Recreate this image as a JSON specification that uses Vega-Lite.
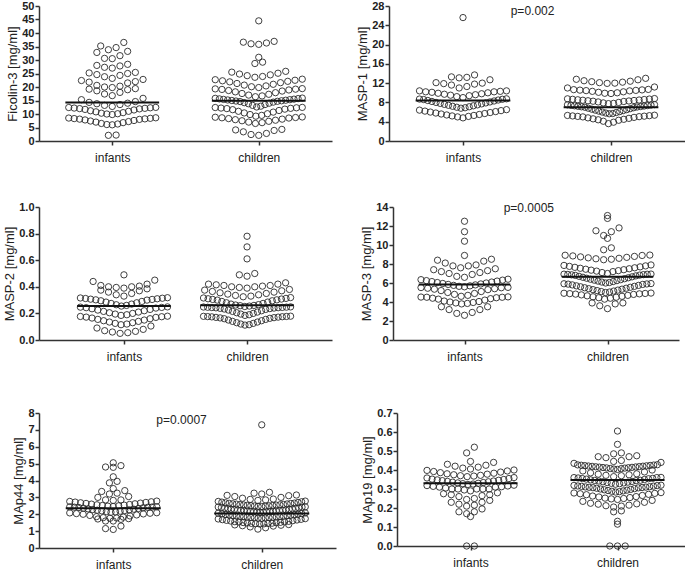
{
"$schema":"https://vega.github.io/schema/vega-lite/v6.json",
"padding":{"left":3,"top":0,"right":0,"bottom":0},
"config":{"view":{"stroke":null},"font":"Liberation Sans",
"axis":{"grid":false,"domainColor":"#333","domainWidth":1.5,"tickColor":"#333","tickWidth":1.5,"tickSize":4,"labelColor":"#222","titleColor":"#222","titleFontWeight":"normal","titleFontSize":13,"labelOverlap":false},
"axisY":{"labelFontWeight":"bold","labelFontSize":11,"labelPadding":1,"titlePadding":2},
"axisX":{"labelFontSize":12,"labelPadding":7,"labelFontWeight":"normal"},
"text":{"fontSize":12,"color":"#222"}},
"spacing":38,
"vconcat":[
{"hconcat":[
{"width":293,"height":135,
"data":{"values":[
{"group":"infants","v":2.1},{"group":"infants","v":2.2},{"group":"infants","v":6.0},{"group":"infants","v":6.1},{"group":"infants","v":6.3},{"group":"infants","v":6.5},{"group":"infants","v":6.8},{"group":"infants","v":7.0},{"group":"infants","v":7.2},{"group":"infants","v":7.4},{"group":"infants","v":7.6},{"group":"infants","v":7.8},{"group":"infants","v":8.0},{"group":"infants","v":8.1},{"group":"infants","v":8.2},{"group":"infants","v":8.3},{"group":"infants","v":8.4},{"group":"infants","v":8.5},{"group":"infants","v":8.6},{"group":"infants","v":9.8},{"group":"infants","v":10.0},{"group":"infants","v":10.1},{"group":"infants","v":10.3},{"group":"infants","v":10.5},{"group":"infants","v":10.8},{"group":"infants","v":11.0},{"group":"infants","v":11.2},{"group":"infants","v":11.5},{"group":"infants","v":11.7},{"group":"infants","v":11.9},{"group":"infants","v":12.0},{"group":"infants","v":12.1},{"group":"infants","v":12.2},{"group":"infants","v":12.3},{"group":"infants","v":12.4},{"group":"infants","v":12.45},{"group":"infants","v":12.8},{"group":"infants","v":13.2},{"group":"infants","v":13.5},{"group":"infants","v":13.8},{"group":"infants","v":14.0},{"group":"infants","v":14.3},{"group":"infants","v":14.6},{"group":"infants","v":15.3},{"group":"infants","v":15.8},{"group":"infants","v":16.8},{"group":"infants","v":17.4},{"group":"infants","v":18.0},{"group":"infants","v":18.6},{"group":"infants","v":19.0},{"group":"infants","v":19.2},{"group":"infants","v":19.4},{"group":"infants","v":19.8},{"group":"infants","v":20.0},{"group":"infants","v":20.3},{"group":"infants","v":20.6},{"group":"infants","v":21.5},{"group":"infants","v":21.8},{"group":"infants","v":22.0},{"group":"infants","v":22.4},{"group":"infants","v":22.8},{"group":"infants","v":23.2},{"group":"infants","v":23.8},{"group":"infants","v":24.3},{"group":"infants","v":24.6},{"group":"infants","v":25.0},{"group":"infants","v":25.2},{"group":"infants","v":25.4},{"group":"infants","v":27.0},{"group":"infants","v":27.3},{"group":"infants","v":27.8},{"group":"infants","v":28.0},{"group":"infants","v":28.4},{"group":"infants","v":30.5},{"group":"infants","v":30.6},{"group":"infants","v":31.6},{"group":"infants","v":32.8},{"group":"infants","v":33.2},{"group":"infants","v":33.8},{"group":"infants","v":34.6},{"group":"infants","v":35.2},{"group":"infants","v":36.5},
{"group":"children","v":2.1},{"group":"children","v":2.4},{"group":"children","v":2.8},{"group":"children","v":3.4},{"group":"children","v":3.9},{"group":"children","v":4.1},{"group":"children","v":4.3},{"group":"children","v":6.5},{"group":"children","v":6.8},{"group":"children","v":7.0},{"group":"children","v":7.3},{"group":"children","v":7.5},{"group":"children","v":7.7},{"group":"children","v":7.9},{"group":"children","v":8.1},{"group":"children","v":8.3},{"group":"children","v":8.5},{"group":"children","v":8.6},{"group":"children","v":8.7},{"group":"children","v":8.8},{"group":"children","v":8.9},{"group":"children","v":9.2},{"group":"children","v":9.5},{"group":"children","v":9.8},{"group":"children","v":10.1},{"group":"children","v":10.4},{"group":"children","v":10.7},{"group":"children","v":11.0},{"group":"children","v":11.3},{"group":"children","v":11.6},{"group":"children","v":11.8},{"group":"children","v":12.0},{"group":"children","v":12.1},{"group":"children","v":12.2},{"group":"children","v":12.3},{"group":"children","v":12.4},{"group":"children","v":12.45},{"group":"children","v":12.6},{"group":"children","v":12.9},{"group":"children","v":13.2},{"group":"children","v":13.5},{"group":"children","v":13.8},{"group":"children","v":14.0},{"group":"children","v":14.2},{"group":"children","v":14.4},{"group":"children","v":14.6},{"group":"children","v":14.7},{"group":"children","v":14.8},{"group":"children","v":14.9},{"group":"children","v":15.0},{"group":"children","v":15.1},{"group":"children","v":15.2},{"group":"children","v":15.3},{"group":"children","v":15.4},{"group":"children","v":15.5},{"group":"children","v":15.6},{"group":"children","v":15.7},{"group":"children","v":15.8},{"group":"children","v":15.9},{"group":"children","v":16.4},{"group":"children","v":16.7},{"group":"children","v":17.0},{"group":"children","v":17.3},{"group":"children","v":17.6},{"group":"children","v":17.9},{"group":"children","v":18.2},{"group":"children","v":18.5},{"group":"children","v":18.7},{"group":"children","v":18.9},{"group":"children","v":19.1},{"group":"children","v":19.2},{"group":"children","v":19.3},{"group":"children","v":19.4},{"group":"children","v":19.8},{"group":"children","v":20.1},{"group":"children","v":20.4},{"group":"children","v":20.7},{"group":"children","v":21.0},{"group":"children","v":21.3},{"group":"children","v":21.6},{"group":"children","v":21.9},{"group":"children","v":22.1},{"group":"children","v":22.3},{"group":"children","v":22.5},{"group":"children","v":22.7},{"group":"children","v":22.9},{"group":"children","v":23.6},{"group":"children","v":23.9},{"group":"children","v":24.2},{"group":"children","v":24.5},{"group":"children","v":24.8},{"group":"children","v":25.1},{"group":"children","v":25.5},{"group":"children","v":25.8},{"group":"children","v":28.7},{"group":"children","v":29.2},{"group":"children","v":31.0},{"group":"children","v":35.8},{"group":"children","v":36.0},{"group":"children","v":36.3},{"group":"children","v":36.6},{"group":"children","v":36.9},{"group":"children","v":44.5}
]},
"layer":[
{"transform":[
{"calculate":"floor((datum.v-5.5)/3.5)","as":"bin"},
{"window":[{"op":"row_number","as":"rk"},{"op":"count","as":"n"}],"groupby":["group","bin"],"sort":[{"field":"v","order":"ascending"}],"frame":[null,null]},
{"calculate":"datum.n%2==1 ? ((datum.rk-1)%2==1?-1:1)*ceil((datum.rk-1)/2) : ((datum.rk-1)%2==0?-1:1)*(floor((datum.rk-1)/2)+0.5)","as":"slot"},
{"calculate":"(datum.group=='infants'?0:1)+datum.slot*min(7.7,87/max(datum.n-1,1))/146.5","as":"xp"}],
"mark":{"type":"point","shape":"circle","filled":false,"size":40,"color":"#2a2a2a","strokeWidth":0.9,"opacity":1},
"encoding":{
"x":{"field":"xp","type":"quantitative","title":null,"scale":{"domain":[-0.5,1.5],"nice":false},"axis":{"values":[0,1],"labelExpr":"datum.value==0?'infants':'children'"}},
"y":{"field":"v","type":"quantitative","title":"Ficolin-3 [mg/ml]","scale":{"domain":[0,50],"nice":false},"axis":{"values":[0,5,10,15,20,25,30,35,40,45,50],"labelOverlap":false}}}},
{"data":{"values":[{"group":"infants","median":14.3},{"group":"children","median":14.9}]},
"transform":[{"calculate":"(datum.group=='infants'?0:1)-0.32","as":"x1"},{"calculate":"(datum.group=='infants'?0:1)+0.32","as":"x2"}],
"mark":{"type":"rule","color":"#111","strokeWidth":2},
"encoding":{"x":{"field":"x1","type":"quantitative","title":null},"x2":{"field":"x2"},"y":{"field":"median","type":"quantitative","title":"Ficolin-3 [mg/ml]","axis":{"values":[0,5,10,15,20,25,30,35,40,45,50],"labelOverlap":false}}}}
]},
{"width":296,"height":135,
"data":{"values":[
{"group":"infants","v":4.8},{"group":"infants","v":5.0},{"group":"infants","v":5.1},{"group":"infants","v":5.2},{"group":"infants","v":5.3},{"group":"infants","v":5.4},{"group":"infants","v":5.5},{"group":"infants","v":5.6},{"group":"infants","v":5.7},{"group":"infants","v":5.8},{"group":"infants","v":5.9},{"group":"infants","v":6.0},{"group":"infants","v":6.1},{"group":"infants","v":6.2},{"group":"infants","v":6.3},{"group":"infants","v":6.4},{"group":"infants","v":6.5},{"group":"infants","v":6.8},{"group":"infants","v":6.9},{"group":"infants","v":7.0},{"group":"infants","v":7.1},{"group":"infants","v":7.2},{"group":"infants","v":7.3},{"group":"infants","v":7.4},{"group":"infants","v":7.5},{"group":"infants","v":7.6},{"group":"infants","v":7.7},{"group":"infants","v":7.8},{"group":"infants","v":7.9},{"group":"infants","v":8.0},{"group":"infants","v":8.1},{"group":"infants","v":8.2},{"group":"infants","v":8.3},{"group":"infants","v":8.4},{"group":"infants","v":8.5},{"group":"infants","v":8.6},{"group":"infants","v":8.65},{"group":"infants","v":8.7},{"group":"infants","v":8.75},{"group":"infants","v":9.0},{"group":"infants","v":9.2},{"group":"infants","v":9.4},{"group":"infants","v":9.5},{"group":"infants","v":9.6},{"group":"infants","v":9.7},{"group":"infants","v":9.8},{"group":"infants","v":9.9},{"group":"infants","v":10.0},{"group":"infants","v":10.1},{"group":"infants","v":10.2},{"group":"infants","v":10.2},{"group":"infants","v":10.3},{"group":"infants","v":10.4},{"group":"infants","v":10.4},{"group":"infants","v":11.0},{"group":"infants","v":11.3},{"group":"infants","v":11.6},{"group":"infants","v":11.8},{"group":"infants","v":11.9},{"group":"infants","v":12.0},{"group":"infants","v":12.1},{"group":"infants","v":12.7},{"group":"infants","v":13.1},{"group":"infants","v":13.2},{"group":"infants","v":13.3},{"group":"infants","v":13.7},{"group":"infants","v":25.6},
{"group":"children","v":3.6},{"group":"children","v":3.9},{"group":"children","v":4.1},{"group":"children","v":4.3},{"group":"children","v":4.4},{"group":"children","v":4.5},{"group":"children","v":4.6},{"group":"children","v":4.7},{"group":"children","v":4.8},{"group":"children","v":4.9},{"group":"children","v":5.0},{"group":"children","v":5.05},{"group":"children","v":5.1},{"group":"children","v":5.15},{"group":"children","v":5.2},{"group":"children","v":5.25},{"group":"children","v":5.3},{"group":"children","v":5.35},{"group":"children","v":5.65},{"group":"children","v":5.7},{"group":"children","v":5.8},{"group":"children","v":5.9},{"group":"children","v":6.0},{"group":"children","v":6.1},{"group":"children","v":6.2},{"group":"children","v":6.3},{"group":"children","v":6.4},{"group":"children","v":6.5},{"group":"children","v":6.6},{"group":"children","v":6.7},{"group":"children","v":6.8},{"group":"children","v":6.9},{"group":"children","v":7.0},{"group":"children","v":7.05},{"group":"children","v":7.1},{"group":"children","v":7.15},{"group":"children","v":7.2},{"group":"children","v":7.25},{"group":"children","v":7.3},{"group":"children","v":7.35},{"group":"children","v":7.4},{"group":"children","v":7.45},{"group":"children","v":7.5},{"group":"children","v":7.55},{"group":"children","v":7.75},{"group":"children","v":7.8},{"group":"children","v":7.9},{"group":"children","v":8.0},{"group":"children","v":8.1},{"group":"children","v":8.2},{"group":"children","v":8.25},{"group":"children","v":8.3},{"group":"children","v":8.35},{"group":"children","v":8.4},{"group":"children","v":8.45},{"group":"children","v":8.5},{"group":"children","v":8.55},{"group":"children","v":8.6},{"group":"children","v":8.65},{"group":"children","v":8.7},{"group":"children","v":8.75},{"group":"children","v":8.8},{"group":"children","v":9.85},{"group":"children","v":9.9},{"group":"children","v":10.0},{"group":"children","v":10.1},{"group":"children","v":10.2},{"group":"children","v":10.3},{"group":"children","v":10.4},{"group":"children","v":10.45},{"group":"children","v":10.5},{"group":"children","v":10.55},{"group":"children","v":10.6},{"group":"children","v":10.65},{"group":"children","v":10.7},{"group":"children","v":11.0},{"group":"children","v":11.2},{"group":"children","v":11.95},{"group":"children","v":12.0},{"group":"children","v":12.1},{"group":"children","v":12.2},{"group":"children","v":12.3},{"group":"children","v":12.4},{"group":"children","v":12.5},{"group":"children","v":12.7},{"group":"children","v":12.8},{"group":"children","v":13.0}
]},
"layer":[
{"transform":[
{"calculate":"floor((datum.v-(datum.group=='infants'?0.4:1.4))/2.1)","as":"bin"},
{"window":[{"op":"row_number","as":"rk"},{"op":"count","as":"n"}],"groupby":["group","bin"],"sort":[{"field":"v","order":"ascending"}],"frame":[null,null]},
{"calculate":"datum.n%2==1 ? ((datum.rk-1)%2==1?-1:1)*ceil((datum.rk-1)/2) : ((datum.rk-1)%2==0?-1:1)*(floor((datum.rk-1)/2)+0.5)","as":"slot"},
{"calculate":"(datum.group=='infants'?0:1)+datum.slot*min(7.7,87/max(datum.n-1,1))/148","as":"xp"}],
"mark":{"type":"point","shape":"circle","filled":false,"size":40,"color":"#2a2a2a","strokeWidth":0.9,"opacity":1},
"encoding":{
"x":{"field":"xp","type":"quantitative","title":null,"scale":{"domain":[-0.5,1.5],"nice":false},"axis":{"values":[0,1],"labelExpr":"datum.value==0?'infants':'children'"}},
"y":{"field":"v","type":"quantitative","title":"MASP-1 [mg/ml]","scale":{"domain":[0,28],"nice":false},"axis":{"values":[0,4,8,12,16,20,24,28],"labelOverlap":false}}}},
{"data":{"values":[{"group":"infants","median":8.4},{"group":"children","median":7.0}]},
"transform":[{"calculate":"(datum.group=='infants'?0:1)-0.32","as":"x1"},{"calculate":"(datum.group=='infants'?0:1)+0.32","as":"x2"}],
"mark":{"type":"rule","color":"#111","strokeWidth":2},
"encoding":{"x":{"field":"x1","type":"quantitative","title":null},"x2":{"field":"x2"},"y":{"field":"median","type":"quantitative","title":"MASP-1 [mg/ml]","axis":{"values":[0,4,8,12,16,20,24,28],"labelOverlap":false}}}},
{"data":{"values":[{"p":"p=0.002"}]},
"mark":{"type":"text","baseline":"middle","align":"center"},
"encoding":{"x":{"datum":0.47,"type":"quantitative","title":null,"axis":{"values":[0,1],"labelExpr":"datum.value==0?'infants':'children'"}},"y":{"datum":27,"type":"quantitative","title":"MASP-1 [mg/ml]","axis":{"values":[0,4,8,12,16,20,24,28],"labelOverlap":false}},"text":{"field":"p"}}}
]}
],"spacing":24},
{"vconcat":[
{"hconcat":[
{"width":293,"height":133,
"data":{"values":[
{"group":"infants","v":0.05},{"group":"infants","v":0.055},{"group":"infants","v":0.06},{"group":"infants","v":0.065},{"group":"infants","v":0.07},{"group":"infants","v":0.08},{"group":"infants","v":0.09},{"group":"infants","v":0.105},{"group":"infants","v":0.115},{"group":"infants","v":0.12},{"group":"infants","v":0.125},{"group":"infants","v":0.13},{"group":"infants","v":0.135},{"group":"infants","v":0.14},{"group":"infants","v":0.145},{"group":"infants","v":0.15},{"group":"infants","v":0.155},{"group":"infants","v":0.16},{"group":"infants","v":0.165},{"group":"infants","v":0.17},{"group":"infants","v":0.172},{"group":"infants","v":0.175},{"group":"infants","v":0.177},{"group":"infants","v":0.179},{"group":"infants","v":0.185},{"group":"infants","v":0.19},{"group":"infants","v":0.195},{"group":"infants","v":0.2},{"group":"infants","v":0.205},{"group":"infants","v":0.21},{"group":"infants","v":0.215},{"group":"infants","v":0.22},{"group":"infants","v":0.225},{"group":"infants","v":0.23},{"group":"infants","v":0.235},{"group":"infants","v":0.24},{"group":"infants","v":0.243},{"group":"infants","v":0.245},{"group":"infants","v":0.247},{"group":"infants","v":0.249},{"group":"infants","v":0.255},{"group":"infants","v":0.26},{"group":"infants","v":0.265},{"group":"infants","v":0.27},{"group":"infants","v":0.275},{"group":"infants","v":0.28},{"group":"infants","v":0.285},{"group":"infants","v":0.29},{"group":"infants","v":0.295},{"group":"infants","v":0.3},{"group":"infants","v":0.302},{"group":"infants","v":0.305},{"group":"infants","v":0.307},{"group":"infants","v":0.31},{"group":"infants","v":0.312},{"group":"infants","v":0.314},{"group":"infants","v":0.316},{"group":"infants","v":0.318},{"group":"infants","v":0.33},{"group":"infants","v":0.34},{"group":"infants","v":0.35},{"group":"infants","v":0.36},{"group":"infants","v":0.37},{"group":"infants","v":0.375},{"group":"infants","v":0.385},{"group":"infants","v":0.39},{"group":"infants","v":0.395},{"group":"infants","v":0.4},{"group":"infants","v":0.4},{"group":"infants","v":0.405},{"group":"infants","v":0.41},{"group":"infants","v":0.42},{"group":"infants","v":0.44},{"group":"infants","v":0.45},{"group":"infants","v":0.49},
{"group":"children","v":0.112},{"group":"children","v":0.115},{"group":"children","v":0.12},{"group":"children","v":0.125},{"group":"children","v":0.13},{"group":"children","v":0.135},{"group":"children","v":0.14},{"group":"children","v":0.145},{"group":"children","v":0.15},{"group":"children","v":0.155},{"group":"children","v":0.16},{"group":"children","v":0.163},{"group":"children","v":0.166},{"group":"children","v":0.168},{"group":"children","v":0.17},{"group":"children","v":0.172},{"group":"children","v":0.174},{"group":"children","v":0.175},{"group":"children","v":0.176},{"group":"children","v":0.177},{"group":"children","v":0.178},{"group":"children","v":0.179},{"group":"children","v":0.185},{"group":"children","v":0.19},{"group":"children","v":0.195},{"group":"children","v":0.2},{"group":"children","v":0.205},{"group":"children","v":0.21},{"group":"children","v":0.215},{"group":"children","v":0.22},{"group":"children","v":0.225},{"group":"children","v":0.23},{"group":"children","v":0.233},{"group":"children","v":0.236},{"group":"children","v":0.238},{"group":"children","v":0.24},{"group":"children","v":0.242},{"group":"children","v":0.243},{"group":"children","v":0.244},{"group":"children","v":0.245},{"group":"children","v":0.246},{"group":"children","v":0.247},{"group":"children","v":0.248},{"group":"children","v":0.249},{"group":"children","v":0.252},{"group":"children","v":0.255},{"group":"children","v":0.258},{"group":"children","v":0.26},{"group":"children","v":0.263},{"group":"children","v":0.266},{"group":"children","v":0.27},{"group":"children","v":0.275},{"group":"children","v":0.28},{"group":"children","v":0.285},{"group":"children","v":0.29},{"group":"children","v":0.295},{"group":"children","v":0.3},{"group":"children","v":0.302},{"group":"children","v":0.305},{"group":"children","v":0.308},{"group":"children","v":0.31},{"group":"children","v":0.313},{"group":"children","v":0.316},{"group":"children","v":0.319},{"group":"children","v":0.325},{"group":"children","v":0.33},{"group":"children","v":0.335},{"group":"children","v":0.34},{"group":"children","v":0.345},{"group":"children","v":0.35},{"group":"children","v":0.355},{"group":"children","v":0.36},{"group":"children","v":0.365},{"group":"children","v":0.37},{"group":"children","v":0.375},{"group":"children","v":0.38},{"group":"children","v":0.39},{"group":"children","v":0.395},{"group":"children","v":0.4},{"group":"children","v":0.4},{"group":"children","v":0.405},{"group":"children","v":0.41},{"group":"children","v":0.41},{"group":"children","v":0.415},{"group":"children","v":0.42},{"group":"children","v":0.42},{"group":"children","v":0.43},{"group":"children","v":0.48},{"group":"children","v":0.49},{"group":"children","v":0.5},{"group":"children","v":0.61},{"group":"children","v":0.7},{"group":"children","v":0.78}
]},
"layer":[
{"transform":[
{"calculate":"floor((datum.v-0.04)/0.07)","as":"bin"},
{"window":[{"op":"row_number","as":"rk"},{"op":"count","as":"n"}],"groupby":["group","bin"],"sort":[{"field":"v","order":"ascending"}],"frame":[null,null]},
{"calculate":"datum.n%2==1 ? ((datum.rk-1)%2==1?-1:1)*ceil((datum.rk-1)/2) : ((datum.rk-1)%2==0?-1:1)*(floor((datum.rk-1)/2)+0.5)","as":"slot"},
{"calculate":"(datum.group=='infants'?0:1)+datum.slot*min(7.7,87/max(datum.n-1,1))/123","as":"xp"}],
"mark":{"type":"point","shape":"circle","filled":false,"size":40,"color":"#2a2a2a","strokeWidth":0.9,"opacity":1},
"encoding":{
"x":{"field":"xp","type":"quantitative","title":null,"scale":{"domain":[-0.69,1.69],"nice":false},"axis":{"values":[0,1],"labelExpr":"datum.value==0?'infants':'children'"}},
"y":{"field":"v","type":"quantitative","title":"MASP-2 [mg/ml]","scale":{"domain":[0,1],"nice":false},"axis":{"values":[0,0.2,0.4,0.6,0.8,1],"format":".1f","labelOverlap":false}}}},
{"data":{"values":[{"group":"infants","median":0.256},{"group":"children","median":0.261}]},
"transform":[{"calculate":"(datum.group=='infants'?0:1)-0.38","as":"x1"},{"calculate":"(datum.group=='infants'?0:1)+0.38","as":"x2"}],
"mark":{"type":"rule","color":"#111","strokeWidth":2},
"encoding":{"x":{"field":"x1","type":"quantitative","title":null},"x2":{"field":"x2"},"y":{"field":"median","type":"quantitative","title":"MASP-2 [mg/ml]","axis":{"values":[0,0.2,0.4,0.6,0.8,1],"format":".1f","labelOverlap":false}}}}
]},
{"width":286,"height":133,
"data":{"values":[
{"group":"infants","v":2.6},{"group":"infants","v":2.8},{"group":"infants","v":2.9},{"group":"infants","v":3.2},{"group":"infants","v":3.2},{"group":"infants","v":3.5},{"group":"infants","v":3.5},{"group":"infants","v":3.8},{"group":"infants","v":3.85},{"group":"infants","v":3.9},{"group":"infants","v":3.95},{"group":"infants","v":4.0},{"group":"infants","v":4.05},{"group":"infants","v":4.1},{"group":"infants","v":4.2},{"group":"infants","v":4.3},{"group":"infants","v":4.35},{"group":"infants","v":4.4},{"group":"infants","v":4.45},{"group":"infants","v":4.5},{"group":"infants","v":4.5},{"group":"infants","v":4.52},{"group":"infants","v":4.54},{"group":"infants","v":4.6},{"group":"infants","v":4.7},{"group":"infants","v":4.8},{"group":"infants","v":4.9},{"group":"infants","v":5.0},{"group":"infants","v":5.1},{"group":"infants","v":5.2},{"group":"infants","v":5.3},{"group":"infants","v":5.35},{"group":"infants","v":5.4},{"group":"infants","v":5.45},{"group":"infants","v":5.5},{"group":"infants","v":5.52},{"group":"infants","v":5.54},{"group":"infants","v":5.6},{"group":"infants","v":5.65},{"group":"infants","v":5.7},{"group":"infants","v":5.75},{"group":"infants","v":5.8},{"group":"infants","v":5.85},{"group":"infants","v":5.9},{"group":"infants","v":5.95},{"group":"infants","v":6.0},{"group":"infants","v":6.05},{"group":"infants","v":6.1},{"group":"infants","v":6.15},{"group":"infants","v":6.2},{"group":"infants","v":6.25},{"group":"infants","v":6.3},{"group":"infants","v":6.35},{"group":"infants","v":6.4},{"group":"infants","v":6.6},{"group":"infants","v":6.7},{"group":"infants","v":6.9},{"group":"infants","v":7.0},{"group":"infants","v":7.1},{"group":"infants","v":7.2},{"group":"infants","v":7.3},{"group":"infants","v":7.4},{"group":"infants","v":7.5},{"group":"infants","v":7.6},{"group":"infants","v":7.8},{"group":"infants","v":7.8},{"group":"infants","v":7.9},{"group":"infants","v":8.1},{"group":"infants","v":8.3},{"group":"infants","v":8.4},{"group":"infants","v":8.5},{"group":"infants","v":8.9},{"group":"infants","v":10.4},{"group":"infants","v":11.4},{"group":"infants","v":12.5},
{"group":"children","v":3.3},{"group":"children","v":3.6},{"group":"children","v":3.8},{"group":"children","v":3.9},{"group":"children","v":3.9},{"group":"children","v":4.3},{"group":"children","v":4.4},{"group":"children","v":4.45},{"group":"children","v":4.5},{"group":"children","v":4.55},{"group":"children","v":4.6},{"group":"children","v":4.65},{"group":"children","v":4.7},{"group":"children","v":4.75},{"group":"children","v":4.8},{"group":"children","v":4.83},{"group":"children","v":4.86},{"group":"children","v":4.88},{"group":"children","v":4.9},{"group":"children","v":4.92},{"group":"children","v":4.94},{"group":"children","v":5.0},{"group":"children","v":5.05},{"group":"children","v":5.1},{"group":"children","v":5.15},{"group":"children","v":5.2},{"group":"children","v":5.25},{"group":"children","v":5.3},{"group":"children","v":5.35},{"group":"children","v":5.4},{"group":"children","v":5.45},{"group":"children","v":5.5},{"group":"children","v":5.55},{"group":"children","v":5.6},{"group":"children","v":5.65},{"group":"children","v":5.7},{"group":"children","v":5.75},{"group":"children","v":5.8},{"group":"children","v":5.85},{"group":"children","v":5.88},{"group":"children","v":5.9},{"group":"children","v":5.92},{"group":"children","v":5.94},{"group":"children","v":6.0},{"group":"children","v":6.05},{"group":"children","v":6.1},{"group":"children","v":6.15},{"group":"children","v":6.2},{"group":"children","v":6.25},{"group":"children","v":6.3},{"group":"children","v":6.35},{"group":"children","v":6.4},{"group":"children","v":6.45},{"group":"children","v":6.5},{"group":"children","v":6.55},{"group":"children","v":6.6},{"group":"children","v":6.65},{"group":"children","v":6.7},{"group":"children","v":6.75},{"group":"children","v":6.8},{"group":"children","v":6.83},{"group":"children","v":6.86},{"group":"children","v":6.88},{"group":"children","v":6.9},{"group":"children","v":6.92},{"group":"children","v":6.93},{"group":"children","v":6.94},{"group":"children","v":7.0},{"group":"children","v":7.1},{"group":"children","v":7.2},{"group":"children","v":7.25},{"group":"children","v":7.3},{"group":"children","v":7.35},{"group":"children","v":7.4},{"group":"children","v":7.45},{"group":"children","v":7.5},{"group":"children","v":7.55},{"group":"children","v":7.6},{"group":"children","v":7.65},{"group":"children","v":7.7},{"group":"children","v":7.75},{"group":"children","v":7.8},{"group":"children","v":7.85},{"group":"children","v":7.9},{"group":"children","v":8.45},{"group":"children","v":8.5},{"group":"children","v":8.55},{"group":"children","v":8.6},{"group":"children","v":8.65},{"group":"children","v":8.7},{"group":"children","v":8.75},{"group":"children","v":8.8},{"group":"children","v":8.85},{"group":"children","v":8.9},{"group":"children","v":8.92},{"group":"children","v":8.94},{"group":"children","v":9.5},{"group":"children","v":9.7},{"group":"children","v":10.7},{"group":"children","v":11.0},{"group":"children","v":11.4},{"group":"children","v":11.5},{"group":"children","v":11.8},{"group":"children","v":12.8},{"group":"children","v":13.1}
]},
"layer":[
{"transform":[
{"calculate":"floor((datum.v-(datum.group=='infants'?2.55:2.95))/1.0)","as":"bin"},
{"window":[{"op":"row_number","as":"rk"},{"op":"count","as":"n"}],"groupby":["group","bin"],"sort":[{"field":"v","order":"ascending"}],"frame":[null,null]},
{"calculate":"datum.n%2==1 ? ((datum.rk-1)%2==1?-1:1)*ceil((datum.rk-1)/2) : ((datum.rk-1)%2==0?-1:1)*(floor((datum.rk-1)/2)+0.5)","as":"slot"},
{"calculate":"(datum.group=='infants'?0:1)+datum.slot*min(7.7,87/max(datum.n-1,1))/143","as":"xp"}],
"mark":{"type":"point","shape":"circle","filled":false,"size":40,"color":"#2a2a2a","strokeWidth":0.9,"opacity":1},
"encoding":{
"x":{"field":"xp","type":"quantitative","title":null,"scale":{"domain":[-0.5,1.5],"nice":false},"axis":{"values":[0,1],"labelExpr":"datum.value==0?'infants':'children'"}},
"y":{"field":"v","type":"quantitative","title":"MASP-3 [mg/ml]","scale":{"domain":[0,14],"nice":false},"axis":{"values":[0,2,4,6,8,10,12,14],"labelOverlap":false}}}},
{"data":{"values":[{"group":"infants","median":5.83},{"group":"children","median":6.65}]},
"transform":[{"calculate":"(datum.group=='infants'?0:1)-0.32","as":"x1"},{"calculate":"(datum.group=='infants'?0:1)+0.32","as":"x2"}],
"mark":{"type":"rule","color":"#111","strokeWidth":2},
"encoding":{"x":{"field":"x1","type":"quantitative","title":null},"x2":{"field":"x2"},"y":{"field":"median","type":"quantitative","title":"MASP-3 [mg/ml]","axis":{"values":[0,2,4,6,8,10,12,14],"labelOverlap":false}}}},
{"data":{"values":[{"p":"p=0.0005"}]},
"mark":{"type":"text","baseline":"middle","align":"center"},
"encoding":{"x":{"datum":0.45,"type":"quantitative","title":null,"axis":{"values":[0,1],"labelExpr":"datum.value==0?'infants':'children'"}},"y":{"datum":13.9,"type":"quantitative","title":"MASP-3 [mg/ml]","axis":{"values":[0,2,4,6,8,10,12,14],"labelOverlap":false}},"text":{"field":"p"}}}
]}
],"spacing":28},
{"hconcat":[
{"width":297,"height":135,
"data":{"values":[
{"group":"infants","v":1.1},{"group":"infants","v":1.15},{"group":"infants","v":1.3},{"group":"infants","v":1.6},{"group":"infants","v":1.6},{"group":"infants","v":1.7},{"group":"infants","v":1.72},{"group":"infants","v":1.74},{"group":"infants","v":1.76},{"group":"infants","v":1.78},{"group":"infants","v":1.8},{"group":"infants","v":1.83},{"group":"infants","v":1.86},{"group":"infants","v":1.9},{"group":"infants","v":1.93},{"group":"infants","v":1.96},{"group":"infants","v":2.0},{"group":"infants","v":2.02},{"group":"infants","v":2.04},{"group":"infants","v":2.06},{"group":"infants","v":2.08},{"group":"infants","v":2.09},{"group":"infants","v":2.12},{"group":"infants","v":2.14},{"group":"infants","v":2.16},{"group":"infants","v":2.18},{"group":"infants","v":2.2},{"group":"infants","v":2.22},{"group":"infants","v":2.24},{"group":"infants","v":2.26},{"group":"infants","v":2.28},{"group":"infants","v":2.3},{"group":"infants","v":2.32},{"group":"infants","v":2.34},{"group":"infants","v":2.36},{"group":"infants","v":2.38},{"group":"infants","v":2.4},{"group":"infants","v":2.41},{"group":"infants","v":2.42},{"group":"infants","v":2.43},{"group":"infants","v":2.44},{"group":"infants","v":2.445},{"group":"infants","v":2.46},{"group":"infants","v":2.48},{"group":"infants","v":2.5},{"group":"infants","v":2.52},{"group":"infants","v":2.54},{"group":"infants","v":2.56},{"group":"infants","v":2.58},{"group":"infants","v":2.6},{"group":"infants","v":2.62},{"group":"infants","v":2.64},{"group":"infants","v":2.66},{"group":"infants","v":2.68},{"group":"infants","v":2.7},{"group":"infants","v":2.72},{"group":"infants","v":2.74},{"group":"infants","v":2.76},{"group":"infants","v":2.78},{"group":"infants","v":2.82},{"group":"infants","v":2.85},{"group":"infants","v":2.85},{"group":"infants","v":3.0},{"group":"infants","v":3.05},{"group":"infants","v":3.2},{"group":"infants","v":3.25},{"group":"infants","v":3.35},{"group":"infants","v":3.4},{"group":"infants","v":3.52},{"group":"infants","v":3.86},{"group":"infants","v":3.95},{"group":"infants","v":4.22},{"group":"infants","v":4.78},{"group":"infants","v":4.8},{"group":"infants","v":4.88},{"group":"infants","v":5.05},
{"group":"children","v":1.12},{"group":"children","v":1.2},{"group":"children","v":1.25},{"group":"children","v":1.3},{"group":"children","v":1.32},{"group":"children","v":1.35},{"group":"children","v":1.37},{"group":"children","v":1.39},{"group":"children","v":1.42},{"group":"children","v":1.43},{"group":"children","v":1.44},{"group":"children","v":1.45},{"group":"children","v":1.46},{"group":"children","v":1.47},{"group":"children","v":1.48},{"group":"children","v":1.5},{"group":"children","v":1.51},{"group":"children","v":1.52},{"group":"children","v":1.54},{"group":"children","v":1.55},{"group":"children","v":1.56},{"group":"children","v":1.58},{"group":"children","v":1.6},{"group":"children","v":1.62},{"group":"children","v":1.64},{"group":"children","v":1.66},{"group":"children","v":1.68},{"group":"children","v":1.7},{"group":"children","v":1.72},{"group":"children","v":1.74},{"group":"children","v":1.76},{"group":"children","v":1.77},{"group":"children","v":1.78},{"group":"children","v":1.79},{"group":"children","v":1.8},{"group":"children","v":1.81},{"group":"children","v":1.82},{"group":"children","v":1.83},{"group":"children","v":1.84},{"group":"children","v":1.85},{"group":"children","v":1.86},{"group":"children","v":1.87},{"group":"children","v":1.88},{"group":"children","v":1.9},{"group":"children","v":1.91},{"group":"children","v":1.92},{"group":"children","v":1.94},{"group":"children","v":1.95},{"group":"children","v":1.96},{"group":"children","v":1.98},{"group":"children","v":2.0},{"group":"children","v":2.02},{"group":"children","v":2.04},{"group":"children","v":2.06},{"group":"children","v":2.08},{"group":"children","v":2.11},{"group":"children","v":2.12},{"group":"children","v":2.13},{"group":"children","v":2.14},{"group":"children","v":2.15},{"group":"children","v":2.16},{"group":"children","v":2.17},{"group":"children","v":2.18},{"group":"children","v":2.19},{"group":"children","v":2.2},{"group":"children","v":2.21},{"group":"children","v":2.22},{"group":"children","v":2.23},{"group":"children","v":2.24},{"group":"children","v":2.25},{"group":"children","v":2.26},{"group":"children","v":2.28},{"group":"children","v":2.29},{"group":"children","v":2.3},{"group":"children","v":2.32},{"group":"children","v":2.33},{"group":"children","v":2.35},{"group":"children","v":2.36},{"group":"children","v":2.38},{"group":"children","v":2.4},{"group":"children","v":2.42},{"group":"children","v":2.43},{"group":"children","v":2.44},{"group":"children","v":2.46},{"group":"children","v":2.47},{"group":"children","v":2.48},{"group":"children","v":2.49},{"group":"children","v":2.5},{"group":"children","v":2.51},{"group":"children","v":2.52},{"group":"children","v":2.53},{"group":"children","v":2.54},{"group":"children","v":2.55},{"group":"children","v":2.56},{"group":"children","v":2.57},{"group":"children","v":2.58},{"group":"children","v":2.6},{"group":"children","v":2.61},{"group":"children","v":2.62},{"group":"children","v":2.64},{"group":"children","v":2.65},{"group":"children","v":2.66},{"group":"children","v":2.68},{"group":"children","v":2.7},{"group":"children","v":2.72},{"group":"children","v":2.74},{"group":"children","v":2.76},{"group":"children","v":2.78},{"group":"children","v":2.82},{"group":"children","v":2.85},{"group":"children","v":2.88},{"group":"children","v":2.9},{"group":"children","v":2.95},{"group":"children","v":3.0},{"group":"children","v":3.05},{"group":"children","v":3.1},{"group":"children","v":3.12},{"group":"children","v":3.14},{"group":"children","v":3.2},{"group":"children","v":3.25},{"group":"children","v":3.3},{"group":"children","v":7.3}
]},
"layer":[
{"transform":[
{"calculate":"floor(datum.v/0.35)","as":"bin"},
{"window":[{"op":"row_number","as":"rk"},{"op":"count","as":"n"}],"groupby":["group","bin"],"sort":[{"field":"v","order":"ascending"}],"frame":[null,null]},
{"calculate":"datum.n%2==1 ? ((datum.rk-1)%2==1?-1:1)*ceil((datum.rk-1)/2) : ((datum.rk-1)%2==0?-1:1)*(floor((datum.rk-1)/2)+0.5)","as":"slot"},
{"calculate":"(datum.group=='infants'?0:1)+datum.slot*min(7.7,87/max(datum.n-1,1))/148.5","as":"xp"}],
"mark":{"type":"point","shape":"circle","filled":false,"size":40,"color":"#2a2a2a","strokeWidth":0.9,"opacity":1},
"encoding":{
"x":{"field":"xp","type":"quantitative","title":null,"scale":{"domain":[-0.5,1.5],"nice":false},"axis":{"values":[0,1],"labelExpr":"datum.value==0?'infants':'children'"}},
"y":{"field":"v","type":"quantitative","title":"MAp44 [mg/ml]","scale":{"domain":[0,8],"nice":false},"axis":{"values":[0,1,2,3,4,5,6,7,8],"labelOverlap":false}}}},
{"data":{"values":[{"group":"infants","median":2.35},{"group":"children","median":2.05}]},
"transform":[{"calculate":"(datum.group=='infants'?0:1)-0.32","as":"x1"},{"calculate":"(datum.group=='infants'?0:1)+0.32","as":"x2"}],
"mark":{"type":"rule","color":"#111","strokeWidth":2},
"encoding":{"x":{"field":"x1","type":"quantitative","title":null},"x2":{"field":"x2"},"y":{"field":"median","type":"quantitative","title":"MAp44 [mg/ml]","axis":{"values":[0,1,2,3,4,5,6,7,8],"labelOverlap":false}}}},
{"data":{"values":[{"p":"p=0.0007"}]},
"mark":{"type":"text","baseline":"middle","align":"center"},
"encoding":{"x":{"datum":0.46,"type":"quantitative","title":null,"axis":{"values":[0,1],"labelExpr":"datum.value==0?'infants':'children'"}},"y":{"datum":7.6,"type":"quantitative","title":"MAp44 [mg/ml]","axis":{"values":[0,1,2,3,4,5,6,7,8],"labelOverlap":false}},"text":{"field":"p"}}}
]},
{"width":294,"height":133,
"data":{"values":[
{"group":"infants","v":0},{"group":"infants","v":0},{"group":"infants","v":0.155},{"group":"infants","v":0.17},{"group":"infants","v":0.18},{"group":"infants","v":0.18},{"group":"infants","v":0.195},{"group":"infants","v":0.21},{"group":"infants","v":0.215},{"group":"infants","v":0.22},{"group":"infants","v":0.23},{"group":"infants","v":0.23},{"group":"infants","v":0.24},{"group":"infants","v":0.245},{"group":"infants","v":0.25},{"group":"infants","v":0.26},{"group":"infants","v":0.265},{"group":"infants","v":0.27},{"group":"infants","v":0.27},{"group":"infants","v":0.275},{"group":"infants","v":0.28},{"group":"infants","v":0.29},{"group":"infants","v":0.295},{"group":"infants","v":0.3},{"group":"infants","v":0.3},{"group":"infants","v":0.3},{"group":"infants","v":0.3},{"group":"infants","v":0.3},{"group":"infants","v":0.305},{"group":"infants","v":0.31},{"group":"infants","v":0.31},{"group":"infants","v":0.312},{"group":"infants","v":0.314},{"group":"infants","v":0.316},{"group":"infants","v":0.318},{"group":"infants","v":0.32},{"group":"infants","v":0.324},{"group":"infants","v":0.326},{"group":"infants","v":0.328},{"group":"infants","v":0.33},{"group":"infants","v":0.332},{"group":"infants","v":0.334},{"group":"infants","v":0.336},{"group":"infants","v":0.338},{"group":"infants","v":0.34},{"group":"infants","v":0.342},{"group":"infants","v":0.344},{"group":"infants","v":0.346},{"group":"infants","v":0.348},{"group":"infants","v":0.35},{"group":"infants","v":0.352},{"group":"infants","v":0.355},{"group":"infants","v":0.358},{"group":"infants","v":0.36},{"group":"infants","v":0.365},{"group":"infants","v":0.368},{"group":"infants","v":0.37},{"group":"infants","v":0.372},{"group":"infants","v":0.375},{"group":"infants","v":0.378},{"group":"infants","v":0.38},{"group":"infants","v":0.383},{"group":"infants","v":0.386},{"group":"infants","v":0.389},{"group":"infants","v":0.392},{"group":"infants","v":0.395},{"group":"infants","v":0.398},{"group":"infants","v":0.4},{"group":"infants","v":0.405},{"group":"infants","v":0.41},{"group":"infants","v":0.415},{"group":"infants","v":0.42},{"group":"infants","v":0.425},{"group":"infants","v":0.43},{"group":"infants","v":0.44},{"group":"infants","v":0.445},{"group":"infants","v":0.49},{"group":"infants","v":0.52},
{"group":"children","v":0},{"group":"children","v":0},{"group":"children","v":0},{"group":"children","v":0.115},{"group":"children","v":0.13},{"group":"children","v":0.18},{"group":"children","v":0.185},{"group":"children","v":0.205},{"group":"children","v":0.21},{"group":"children","v":0.212},{"group":"children","v":0.215},{"group":"children","v":0.22},{"group":"children","v":0.222},{"group":"children","v":0.225},{"group":"children","v":0.23},{"group":"children","v":0.235},{"group":"children","v":0.24},{"group":"children","v":0.245},{"group":"children","v":0.248},{"group":"children","v":0.25},{"group":"children","v":0.252},{"group":"children","v":0.255},{"group":"children","v":0.258},{"group":"children","v":0.26},{"group":"children","v":0.263},{"group":"children","v":0.266},{"group":"children","v":0.27},{"group":"children","v":0.272},{"group":"children","v":0.275},{"group":"children","v":0.277},{"group":"children","v":0.279},{"group":"children","v":0.281},{"group":"children","v":0.284},{"group":"children","v":0.286},{"group":"children","v":0.288},{"group":"children","v":0.29},{"group":"children","v":0.292},{"group":"children","v":0.294},{"group":"children","v":0.296},{"group":"children","v":0.298},{"group":"children","v":0.3},{"group":"children","v":0.302},{"group":"children","v":0.304},{"group":"children","v":0.306},{"group":"children","v":0.307},{"group":"children","v":0.308},{"group":"children","v":0.309},{"group":"children","v":0.31},{"group":"children","v":0.311},{"group":"children","v":0.312},{"group":"children","v":0.314},{"group":"children","v":0.315},{"group":"children","v":0.316},{"group":"children","v":0.318},{"group":"children","v":0.319},{"group":"children","v":0.32},{"group":"children","v":0.325},{"group":"children","v":0.328},{"group":"children","v":0.33},{"group":"children","v":0.332},{"group":"children","v":0.334},{"group":"children","v":0.336},{"group":"children","v":0.338},{"group":"children","v":0.34},{"group":"children","v":0.342},{"group":"children","v":0.344},{"group":"children","v":0.345},{"group":"children","v":0.346},{"group":"children","v":0.348},{"group":"children","v":0.35},{"group":"children","v":0.352},{"group":"children","v":0.354},{"group":"children","v":0.355},{"group":"children","v":0.356},{"group":"children","v":0.358},{"group":"children","v":0.36},{"group":"children","v":0.36},{"group":"children","v":0.361},{"group":"children","v":0.365},{"group":"children","v":0.37},{"group":"children","v":0.372},{"group":"children","v":0.375},{"group":"children","v":0.378},{"group":"children","v":0.38},{"group":"children","v":0.385},{"group":"children","v":0.39},{"group":"children","v":0.395},{"group":"children","v":0.4},{"group":"children","v":0.403},{"group":"children","v":0.405},{"group":"children","v":0.407},{"group":"children","v":0.408},{"group":"children","v":0.41},{"group":"children","v":0.411},{"group":"children","v":0.412},{"group":"children","v":0.413},{"group":"children","v":0.414},{"group":"children","v":0.415},{"group":"children","v":0.416},{"group":"children","v":0.417},{"group":"children","v":0.418},{"group":"children","v":0.419},{"group":"children","v":0.42},{"group":"children","v":0.421},{"group":"children","v":0.422},{"group":"children","v":0.423},{"group":"children","v":0.424},{"group":"children","v":0.425},{"group":"children","v":0.426},{"group":"children","v":0.427},{"group":"children","v":0.428},{"group":"children","v":0.435},{"group":"children","v":0.44},{"group":"children","v":0.445},{"group":"children","v":0.45},{"group":"children","v":0.465},{"group":"children","v":0.47},{"group":"children","v":0.47},{"group":"children","v":0.475},{"group":"children","v":0.485},{"group":"children","v":0.49},{"group":"children","v":0.535},{"group":"children","v":0.605}
]},
"layer":[
{"transform":[
{"calculate":"floor((datum.v-0.002)/0.04)","as":"bin"},
{"window":[{"op":"row_number","as":"rk"},{"op":"count","as":"n"}],"groupby":["group","bin"],"sort":[{"field":"v","order":"ascending"}],"frame":[null,null]},
{"calculate":"datum.n%2==1 ? ((datum.rk-1)%2==1?-1:1)*ceil((datum.rk-1)/2) : ((datum.rk-1)%2==0?-1:1)*(floor((datum.rk-1)/2)+0.5)","as":"slot"},
{"calculate":"(datum.group=='infants'?0:1)+datum.slot*min(7.7,87/max(datum.n-1,1))/147","as":"xp"}],
"mark":{"type":"point","shape":"circle","filled":false,"size":40,"color":"#2a2a2a","strokeWidth":0.9,"opacity":1},
"encoding":{
"x":{"field":"xp","type":"quantitative","title":null,"scale":{"domain":[-0.5,1.5],"nice":false},"axis":{"values":[0,1],"labelExpr":"datum.value==0?'infants':'children'"}},
"y":{"field":"v","type":"quantitative","title":"MAp19 [mg/ml]","scale":{"domain":[0,0.7],"nice":false},"axis":{"values":[0,0.1,0.2,0.3,0.4,0.5,0.6,0.7],"format":".1f","labelOverlap":false}}}},
{"data":{"values":[{"group":"infants","median":0.33},{"group":"children","median":0.348}]},
"transform":[{"calculate":"(datum.group=='infants'?0:1)-0.32","as":"x1"},{"calculate":"(datum.group=='infants'?0:1)+0.32","as":"x2"}],
"mark":{"type":"rule","color":"#111","strokeWidth":2},
"encoding":{"x":{"field":"x1","type":"quantitative","title":null},"x2":{"field":"x2"},"y":{"field":"median","type":"quantitative","title":"MAp19 [mg/ml]","axis":{"values":[0,0.1,0.2,0.3,0.4,0.5,0.6,0.7],"format":".1f","labelOverlap":false}}}}
]}
],"spacing":25}
],"spacing":45}
]
}
